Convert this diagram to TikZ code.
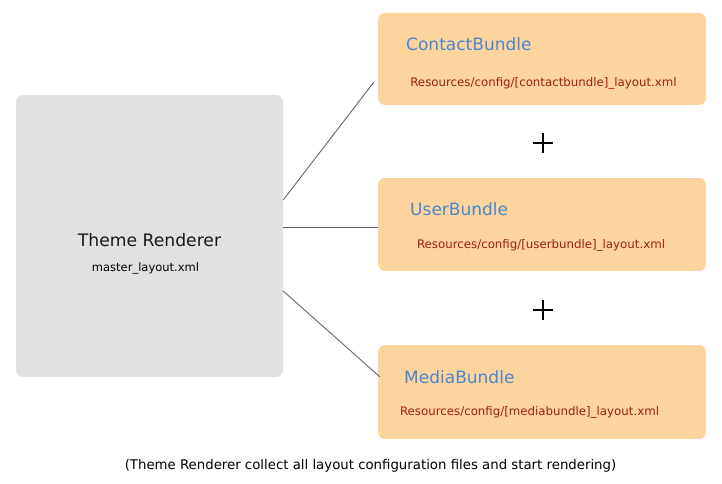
\documentclass[tikz,border=0pt]{standalone}
\usepackage{fontspec}
\setmainfont{DejaVu Sans}
\definecolor{panelgray}{HTML}{E1E1E1}
\definecolor{bundlepeach}{HTML}{FDD49E}
\definecolor{titleblue}{HTML}{4A87CF}
\definecolor{pathred}{HTML}{9E1F16}
\definecolor{linkgray}{HTML}{666666}
\begin{document}
\begin{tikzpicture}[x=1pt, y=-1pt,
        panel/.style={rectangle, fill=panelgray, rounded corners=7pt, inner sep=0pt},
        bundle/.style={rectangle, fill=bundlepeach, rounded corners=7pt, inner sep=0pt, minimum width=328pt},
        title/.style={font=\fontsize{17}{20}\selectfont, text=titleblue, anchor=west, inner sep=0pt},
        respath/.style={font=\fontsize{11.8}{14}\selectfont, text=pathred, inner sep=0pt},
        link/.style={draw=linkgray, line width=0.9pt},
        plus/.style={minimum size=20pt, inner sep=0pt, path picture={
            \draw[line width=1.3pt] (path picture bounding box.north) -- (path picture bounding box.south)
                (path picture bounding box.west) -- (path picture bounding box.east);}}
    ]
    \useasboundingbox (0,0) rectangle (722,484);

    % Renderer
    \node[panel, minimum width=267pt, minimum height=282pt] (theme) at (149.5, 236) {};
    \node[font=\fontsize{17.2}{20}\selectfont, text=black!90, inner sep=0pt] (themename) at (149.5, 240) {Theme Renderer};
    \node[font=\fontsize{11.5}{14}\selectfont, inner sep=0pt] (master) at (145.5, 268) {master\_layout.xml};

    % Bundles
    \node[bundle, minimum height=92pt] (contact) at (542, 59) {};
    \node[title] (contactname) at (406, 44) {ContactBundle};
    \node[respath] (contactres) at (543.5, 83) {Resources/config/[contactbundle]\_layout.xml};

    \node[bundle, minimum height=93pt] (user) at (542, 224.5) {};
    \node[title] (username) at (410, 209) {UserBundle};
    \node[respath] (userres) at (541, 245) {Resources/config/[userbundle]\_layout.xml};

    \node[bundle, minimum height=94pt] (media) at (542, 392) {};
    \node[title] (medianame) at (404, 377) {MediaBundle};
    \node[respath] (mediares) at (529.5, 412) {Resources/config/[mediabundle]\_layout.xml};

    \node[plus] (plus1) at (543, 143) {};
    \node[plus] (plus2) at (543, 310) {};

    % Links
    \draw[link] ([yshift=36pt]theme.east) -- ([xshift=-4pt, yshift=23pt]contact.south west);
    \draw[link] ([yshift=9pt]theme.east) -- ([yshift=-2.5pt]user.west);
    \draw[link] ([yshift=-55pt]theme.east) -- ([xshift=2pt, yshift=-32pt]media.north west);

    % Caption
    \node[font=\fontsize{13.3}{16}\selectfont, inner sep=0pt] (caption) at (370.5, 466) {(Theme Renderer collect all layout configuration files and start rendering)};

\end{tikzpicture}
\end{document}
